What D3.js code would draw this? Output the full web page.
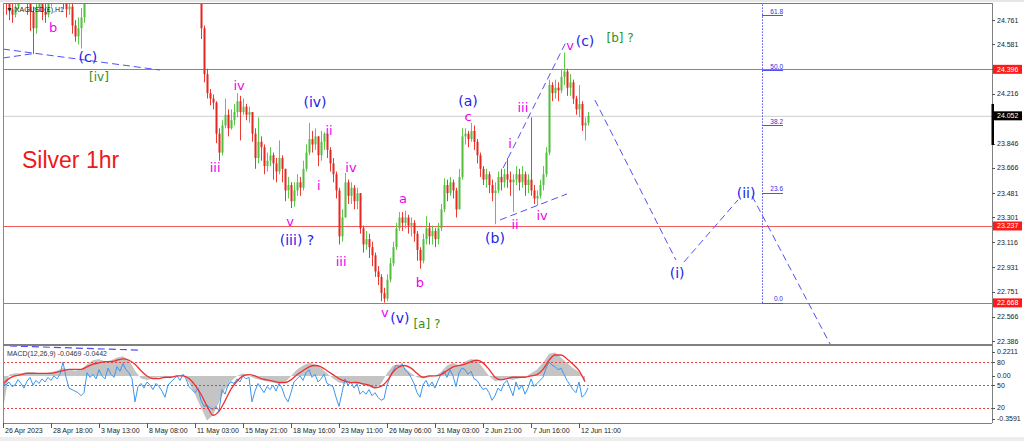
<!DOCTYPE html>
<html><head><meta charset="utf-8">
<script src="https://cdn.jsdelivr.net/npm/d3@7"></script>
<style>body{margin:0;background:#fff;overflow:hidden}svg{display:block}</style>
</head><body><svg id="c" width="1024" height="441"></svg>
<script>
// ---------- DATA ----------
const firstOpen = 25.02;
const closes = [24.95,24.88,24.84,24.80,24.86,24.92,24.98,25.02,24.95,24.82,24.70,24.85,24.90,24.82,24.80,24.88,24.96,25.05,25.10,25.02,24.90,24.84,24.86,24.72,24.64,24.70,24.78,24.95,
25.10,25.18,25.25,25.32,25.40,25.36,25.45,25.52,25.60,25.55,25.48,25.58,25.66,25.72,25.68,25.75,25.80,25.74,25.66,25.70,25.62,25.55,25.60,25.52,25.45,25.50,25.42,25.35,25.40,25.30,25.22,25.28,25.20,25.15,25.22,25.12,25.08,25.05,
24.70,24.36,24.22,24.18,24.15,23.92,23.78,23.98,24.06,23.96,24.02,24.08,24.16,24.08,24.12,24.06,24.08,23.92,23.74,23.86,23.82,23.68,23.72,23.76,23.70,23.64,23.74,23.66,23.50,23.54,23.42,23.50,23.56,23.52,
23.66,23.78,23.88,23.84,23.90,23.76,23.86,23.92,23.80,23.70,23.62,23.50,23.16,23.30,23.56,23.46,23.52,23.42,23.48,23.22,23.10,23.14,23.08,23.02,22.90,22.86,22.74,22.70,22.84,22.96,23.08,23.22,23.30,23.26,
23.30,23.24,23.26,23.18,23.06,22.98,23.14,23.22,23.16,23.20,23.14,23.22,23.36,23.54,23.48,23.56,23.50,23.36,23.60,23.90,23.92,23.88,23.94,23.86,23.76,23.66,23.58,23.62,23.54,23.48,23.50,23.60,23.56,23.62,
23.58,23.56,23.58,23.62,23.56,23.62,23.54,23.58,23.50,23.44,23.46,23.54,23.62,23.78,24.28,24.22,24.26,24.24,24.34,24.38,24.26,24.30,24.18,24.10,24.14,23.98,24.00,24.052];
const highs = [25.10,25.02,24.96,24.92,24.95,25.00,25.06,25.12,25.08,24.98,24.86,24.92,24.98,24.94,24.88,24.95,25.02,25.12,25.18,25.14,25.04,24.94,24.92,24.90,24.76,24.78,24.85,25.02,
25.16,25.24,25.30,25.38,25.45,25.44,25.50,25.58,25.66,25.64,25.58,25.64,25.72,25.78,25.76,25.80,25.86,25.82,25.76,25.76,25.72,25.64,25.66,25.62,25.56,25.55,25.52,25.45,25.44,25.42,25.32,25.32,25.30,25.24,25.26,25.24,25.16,25.12,
25.05,24.72,24.40,24.25,24.21,24.16,23.96,24.02,24.18,24.10,24.10,24.14,24.22,24.20,24.18,24.14,24.12,24.08,23.96,24.04,23.90,23.84,23.78,23.82,23.78,23.74,23.87,23.76,23.66,23.60,23.56,23.56,23.62,23.60,
23.72,23.84,24.00,23.94,23.96,23.90,23.94,23.93,23.92,23.82,23.74,23.64,23.52,23.36,23.63,23.58,23.56,23.54,23.52,23.48,23.24,23.20,23.18,23.12,23.04,22.94,22.88,22.78,22.88,23.00,23.12,23.26,23.34,23.34,
23.35,23.32,23.30,23.28,23.20,23.08,23.18,23.31,23.26,23.24,23.22,23.26,23.40,23.59,23.58,23.60,23.58,23.52,23.66,23.96,23.96,23.94,24.00,23.98,23.88,23.78,23.68,23.66,23.64,23.58,23.56,23.64,23.66,23.66,
23.74,23.64,23.62,23.68,23.66,23.68,23.64,23.62,24.04,23.54,23.50,23.58,23.68,23.82,24.32,24.30,24.32,24.30,24.40,24.52,24.40,24.36,24.32,24.20,24.28,24.16,24.04,24.08];
const lows = [24.84,24.80,24.76,24.74,24.78,24.84,24.90,24.94,24.80,24.68,24.51,24.66,24.82,24.76,24.74,24.78,24.86,24.94,25.00,24.88,24.84,24.78,24.80,24.66,24.60,24.58,24.55,24.74,
24.92,25.06,25.14,25.22,25.28,25.30,25.34,25.42,25.50,25.50,25.44,25.45,25.55,25.62,25.62,25.66,25.72,25.68,25.60,25.62,25.56,25.50,25.52,25.46,25.40,25.42,25.36,25.30,25.32,25.26,25.18,25.20,25.16,25.10,25.12,25.06,25.02,24.98,
24.62,24.30,24.18,24.13,24.10,23.85,23.72,23.76,23.96,23.90,23.95,23.98,24.04,23.87,24.06,24.02,24.00,23.86,23.66,23.70,23.72,23.62,23.64,23.68,23.58,23.56,23.62,23.56,23.42,23.44,23.37,23.38,23.46,23.46,
23.50,23.64,23.76,23.78,23.80,23.68,23.72,23.80,23.74,23.64,23.56,23.44,23.10,23.12,23.30,23.40,23.40,23.36,23.36,23.18,23.04,23.06,23.00,22.94,22.86,22.80,22.68,22.67,22.68,22.82,22.94,23.06,23.20,23.20,
23.22,23.18,23.16,23.12,22.98,22.92,22.96,23.10,23.10,23.10,23.08,23.10,23.20,23.34,23.42,23.46,23.44,23.30,23.36,23.58,23.84,23.82,23.86,23.80,23.70,23.60,23.54,23.52,23.48,23.42,23.25,23.48,23.50,23.52,
23.52,23.46,23.34,23.54,23.50,23.52,23.46,23.48,23.46,23.40,23.39,23.44,23.50,23.60,23.76,24.16,24.18,24.16,24.22,24.28,24.20,24.20,24.14,24.06,24.04,23.94,23.87,23.98];

const timeLabels = ["26 Apr 2023","28 Apr 18:00","3 May 13:00","8 May 08:00","11 May 03:00","15 May 21:00","18 May 16:00","23 May 11:00","26 May 06:00","31 May 03:00","2 Jun 21:00","7 Jun 16:00","12 Jun 11:00"];
const priceTicks = [24.761,24.581,24.401,24.216,24.031,23.846,23.666,23.481,23.301,23.116,22.931,22.751,22.566,22.386];
const levelLines = [24.396,23.237,22.668];
const currentPrice = 24.052;
const lastDayRange = [23.836,24.140];

const fibLevels = [0,23.6,38.2,50,61.8];
const fibLow = 22.668, fibHigh = 26.113, fibBar = 253;

const macdMain = [-0.25,0.01,0.02,0.02,0.03,0.03,0.02,0.02,0.03,0.04,0.06,0.05,0.04,0.05,0.09,0.12,0.13,0.11,0.12,0.14,
0.15,0.12,0.04,-0.02,-0.03,-0.02,-0.01,-0.02,-0.01,0.00,0.01,-0.05,-0.14,-0.24,-0.34,-0.30,-0.20,-0.10,-0.04,0.00,
0.02,0.00,-0.02,-0.03,-0.04,-0.05,-0.06,-0.05,0.00,0.05,0.08,0.10,0.09,0.06,0.02,-0.02,-0.05,-0.06,-0.04,-0.05,
-0.07,-0.08,-0.09,-0.06,0.02,0.08,0.09,0.06,0.02,-0.01,-0.02,-0.01,0.00,0.03,0.08,0.10,0.08,0.11,0.13,0.12,
0.06,0.00,-0.04,-0.03,-0.02,-0.03,-0.02,-0.01,0.02,0.05,0.10,0.17,0.18,0.14,0.10,0.06,0.03,-0.047];
const macdSignal = [-0.06,-0.02,0.00,0.01,0.02,0.02,0.02,0.02,0.02,0.03,0.04,0.05,0.05,0.05,0.07,0.09,0.10,0.11,0.11,0.12,
0.13,0.12,0.09,0.04,0.00,-0.02,-0.02,-0.01,-0.01,0.00,0.00,-0.02,-0.07,-0.14,-0.23,-0.30,-0.27,-0.19,-0.10,-0.04,
0.00,0.01,0.00,-0.02,-0.03,-0.04,-0.05,-0.05,-0.03,0.01,0.04,0.07,0.08,0.07,0.04,0.01,-0.02,-0.04,-0.05,-0.05,
-0.06,-0.07,-0.09,-0.08,-0.04,0.03,0.07,0.08,0.06,0.02,-0.01,0.00,0.00,0.01,0.04,0.07,0.08,0.09,0.11,0.12,
0.10,0.05,-0.01,-0.03,-0.02,-0.01,-0.01,-0.01,0.00,0.01,0.05,0.12,0.16,0.16,0.13,0.09,0.04,-0.044];
const oscValues = [52,50,54,48,50,57,52,46,55,60,50,56,52,58,54,60,56,62,58,64,80,60,46,44,42,40,36,40,66,60,
64,58,70,62,58,72,64,60,74,68,78,70,66,58,28,48,52,46,54,50,44,52,48,42,34,50,54,58,62,56,
64,58,48,44,40,46,30,22,24,20,18,22,16,44,38,50,54,52,58,54,62,58,60,28,42,52,46,40,48,44,
50,42,52,46,34,28,40,54,58,62,56,66,70,60,64,54,58,64,52,50,48,34,22,40,58,50,54,46,52,38,
42,38,44,36,40,34,30,32,50,60,68,76,74,78,70,66,60,52,40,34,50,56,48,54,46,56,64,68,60,70,
62,48,66,72,70,64,68,58,56,50,44,46,40,30,36,46,42,52,56,46,36,54,44,50,38,46,58,48,52,56,
60,72,80,76,74,70,72,64,56,50,44,40,54,34,38,46];
const oscLevels = [80,50,20];

// wave labels: text, bar index, price, kind (m = minor, b = intermediate, g = primary)
const waveLabels = [
 {t:"b",i:16.7,p:24.702,k:"m"},{t:"(c)",i:28.3,p:24.487,k:"b"},{t:"[iv]",i:32,p:24.339,k:"g"},
 {t:"iv",i:78.7,p:24.273,k:"m"},{t:"iii",i:70.7,p:23.666,k:"m"},{t:"(iv)",i:104,p:24.154,k:"b"},
 {t:"ii",i:108.7,p:23.940,k:"m"},{t:"i",i:105.3,p:23.533,k:"m"},{t:"iv",i:116,p:23.666,k:"m"},
 {t:"v",i:95.7,p:23.267,k:"m"},{t:"(iii) ?",i:98,p:23.134,k:"b"},{t:"iii",i:112.7,p:22.971,k:"m"},
 {t:"a",i:133.3,p:23.437,k:"m"},{t:"b",i:139,p:22.816,k:"m"},{t:"v",i:127.3,p:22.594,k:"m"},
 {t:"(v)",i:132.3,p:22.557,k:"b"},{t:"[a] ?",i:141.3,p:22.512,k:"g"},{t:"(a)",i:155,p:24.162,k:"b"},
 {t:"c",i:155,p:24.044,k:"m"},{t:"iii",i:173.3,p:24.117,k:"m"},{t:"i",i:169,p:23.844,k:"m"},
 {t:"ii",i:170.7,p:23.245,k:"m"},{t:"iv",i:179.7,p:23.311,k:"m"},{t:"(b)",i:164,p:23.149,k:"b"},
 {t:"v",i:189,p:24.569,k:"m"},{t:"(c)",i:194,p:24.606,k:"b"},{t:"[b] ?",i:205.7,p:24.628,k:"g"},
 {t:"(i)",i:224.7,p:22.890,k:"b"},{t:"(ii)",i:247.7,p:23.481,k:"b"}
];
// dashed wave lines: [[bar, price],[bar, price]]
const waveLines = [
 [[0,24.546],[52.3,24.391]],
 [[0,24.480],[11,24.515]],
 [[166.7,23.666],[188,24.613]],
 [[165.7,23.282],[188,23.474]],
 [[197.3,24.169],[224.3,22.986]],
 [[227,22.971],[245,23.430]],
 [[249.7,23.459],[276,22.35]]
];
const oscWaveLine = [[2.3,101],[45.7,95.5]];

// ---------- DRAW ----------
const svg = d3.select("#c");
const L=3, R=992, T=3, B=344, MT=346, MB=423;
const x = d3.scaleLinear().domain([0,196]).range([3,591]);
const y = d3.scaleLinear().domain([22.386,24.761]).range([341,20]);
const yM = d3.scaleLinear().domain([-0.3591,0.2211]).range([423,347]);
const yO = d3.scaleLinear().domain([0,100]).range([423.3,346.7]);
const COL = {m:"#f000f0", b:"#2323e6", g:"#2f8f1f"};
const dashBlue = "#5050f5";
const axisFont = "'Liberation Sans', Arial, sans-serif";
const waveFont = "'DejaVu Sans', Verdana, sans-serif";

svg.append("rect").attr("width",1024).attr("height",441).attr("fill","#fff");
svg.append("rect").attr("x",0).attr("y",0).attr("width",1024).attr("height",2).attr("fill","#e6e6e6");
svg.append("rect").attr("x",0).attr("y",437).attr("width",1024).attr("height",4).attr("fill","#ededed");

const defs = svg.append("defs");
defs.append("clipPath").attr("id","cm").append("rect").attr("x",L).attr("y",T).attr("width",R-L).attr("height",B-T);
defs.append("clipPath").attr("id","co").append("rect").attr("x",L).attr("y",MT).attr("width",R-L).attr("height",MB-MT);

const gm = svg.append("g").attr("clip-path","url(#cm)");

// current price line and level lines
gm.append("line").attr("x1",L).attr("x2",R).attr("y1",y(currentPrice)+0.5).attr("y2",y(currentPrice)+0.5)
  .attr("stroke","#cfcfcf").attr("stroke-width",1);
gm.selectAll(".lvl").data(levelLines).join("line")
  .attr("x1",L).attr("x2",R).attr("y1",d=>Math.round(y(d))+0.5).attr("y2",d=>Math.round(y(d))+0.5)
  .attr("stroke","#f25a5a").attr("stroke-width",1);

// fib tool
gm.append("line").attr("x1",x(fibBar)+0.5).attr("x2",x(fibBar)+0.5)
  .attr("y1",y(fibLow)).attr("y2",y(fibHigh)).attr("stroke",dashBlue).attr("stroke-dasharray","1.5,1.5");
const fibY = l => y(fibLow + (fibHigh-fibLow)*l/100);
gm.selectAll(".fibl").data(fibLevels).join("line")
  .attr("x1",x(fibBar)).attr("x2",x(fibBar+7)).attr("y1",d=>Math.round(fibY(d))+0.5).attr("y2",d=>Math.round(fibY(d))+0.5)
  .attr("stroke",dashBlue).attr("stroke-width",1);
gm.selectAll(".fibt").data(fibLevels).join("text")
  .attr("x",x(fibBar+7)).attr("y",d=>fibY(d)-1.5).attr("text-anchor","end")
  .attr("font-family",axisFont).attr("font-size",6.5).attr("fill","#3030e0")
  .text(d=>d.toFixed(1));

// candles
const candles = closes.map((c,i)=>{
  const o = i===0 ? firstOpen : closes[i-1];
  return {i,o,c,h:Math.max(highs[i],o,c),l:Math.min(lows[i],o,c)};
});
const cg = gm.append("g");
cg.selectAll(".wick").data(candles).join("line")
  .attr("x1",d=>x(d.i)+0.5).attr("x2",d=>x(d.i)+0.5)
  .attr("y1",d=>y(d.h)).attr("y2",d=>y(d.l))
  .attr("stroke",d=>d.c>=d.o?"#5ccc48":"#ec3a30").attr("stroke-width",1);
cg.selectAll(".body").data(candles).join("rect")
  .attr("x",d=>x(d.i)-0.5).attr("width",2)
  .attr("y",d=>y(Math.max(d.o,d.c))).attr("height",d=>Math.max(1,Math.abs(y(d.o)-y(d.c))))
  .attr("fill",d=>d.c>=d.o?"#52be3c":"#e8251f");

// wave lines
gm.selectAll(".wl").data(waveLines).join("line")
  .attr("x1",d=>x(d[0][0])).attr("y1",d=>y(d[0][1])).attr("x2",d=>x(d[1][0])).attr("y2",d=>y(d[1][1]))
  .attr("stroke",dashBlue).attr("stroke-width",1).attr("stroke-dasharray","7,4");

// wave labels
gm.selectAll(".wt").data(waveLabels).join("text")
  .attr("x",d=>x(d.i)).attr("y",d=>y(d.p)).attr("text-anchor","middle").attr("dominant-baseline","central")
  .attr("font-family",waveFont).attr("font-size",d=>d.k==="b"?14:(d.k==="g"?12:13))
  .attr("fill",d=>COL[d.k]).text(d=>d.t);

// title texts
svg.append("text").attr("x",22).attr("y",168).attr("font-family",axisFont).attr("font-size",23)
  .attr("fill","#f01818").text("Silver 1hr");
svg.append("text").attr("x",6).attr("y",12).attr("font-family",axisFont).attr("font-size",7)
  .attr("fill","#222").text("▼ XAGUSD(£),H1");

// ---------- MACD / oscillator panel ----------
const go = svg.append("g").attr("clip-path","url(#co)");
const xm = j => x(j*2);
go.append("path").datum(macdMain)
  .attr("d",d3.area().x((d,j)=>xm(j)).y0(yM(0)).y1(d=>yM(d)))
  .attr("fill","#c4c4c4");
go.selectAll(".ol").data(oscLevels).join("line")
  .attr("x1",L).attr("x2",R).attr("y1",d=>Math.round(yO(d))+0.5).attr("y2",d=>Math.round(yO(d))+0.5)
  .attr("stroke","#f03c3c").attr("stroke-dasharray","2,2");
go.append("path").datum(oscValues)
  .attr("d",d3.line().x((d,i)=>x(i)).y(d=>yO(d)))
  .attr("fill","none").attr("stroke","#3a96f0").attr("stroke-width",1);
go.append("path").datum(macdSignal)
  .attr("d",d3.line().curve(d3.curveMonotoneX).x((d,j)=>xm(j)).y(d=>yM(d)))
  .attr("fill","none").attr("stroke","#f03030").attr("stroke-width",1.3);
svg.append("line").attr("x1",x(oscWaveLine[0][0])).attr("y1",yO(oscWaveLine[0][1]))
  .attr("x2",x(oscWaveLine[1][0])).attr("y2",yO(oscWaveLine[1][1]))
  .attr("stroke",dashBlue).attr("stroke-width",1.2).attr("stroke-dasharray","7,4");
svg.append("text").attr("x",7).attr("y",356).attr("font-family",axisFont).attr("font-size",7)
  .attr("fill","#333").text("MACD(12,26,9) -0.0469 -0.0442");

// ---------- frames ----------
svg.append("line").attr("x1",L).attr("x2",R).attr("y1",T+0.5).attr("y2",T+0.5).attr("stroke","#777");
svg.append("line").attr("x1",L+0.5).attr("x2",L+0.5).attr("y1",T).attr("y2",MB).attr("stroke","#888");
svg.append("rect").attr("x",L).attr("y",B).attr("width",R-L).attr("height",2).attr("fill","#808080");
svg.append("line").attr("x1",L).attr("x2",R).attr("y1",MB+0.5).attr("y2",MB+0.5).attr("stroke","#808080");
svg.append("line").attr("x1",R+0.5).attr("x2",R+0.5).attr("y1",T).attr("y2",MB).attr("stroke","#808080");

// price axis
const pa = svg.append("g");
const boxes = levelLines.map(v=>({v,fill:"#ff1a1a"})).concat([{v:currentPrice,fill:"#000"}]);
const freeTicks = priceTicks.filter(t => boxes.every(b => Math.abs(y(t)-y(b.v)) > 7));
pa.selectAll(".pt").data(priceTicks).join("line")
  .attr("x1",R).attr("x2",R+3).attr("y1",d=>Math.round(y(d))+0.5).attr("y2",d=>Math.round(y(d))+0.5).attr("stroke","#555");
pa.selectAll(".pl").data(freeTicks).join("text")
  .attr("x",R+5).attr("y",d=>y(d)).attr("dominant-baseline","central")
  .attr("font-family",axisFont).attr("font-size",7).attr("fill","#222").text(d=>d.toFixed(3));
pa.append("rect").attr("x",R-0.5).attr("y",y(lastDayRange[1])).attr("width",2.5)
  .attr("height",y(lastDayRange[0])-y(lastDayRange[1])).attr("fill","#000");
pa.selectAll(".pb").data(boxes).join("rect")
  .attr("x",R+1).attr("y",d=>y(d.v)-4.5).attr("width",29).attr("height",9).attr("fill",d=>d.fill);
pa.selectAll(".pbt").data(boxes).join("text")
  .attr("x",R+5).attr("y",d=>y(d.v)).attr("dominant-baseline","central")
  .attr("font-family",axisFont).attr("font-size",7).attr("fill","#fff").text(d=>d.v.toFixed(3));

// oscillator axis labels
const oLabels = [
  {t:"0.2211",y:yM(0.2211)+4.5},{t:"0.00",y:yM(0)},{t:"-0.3591",y:yM(-0.3591)-4.5}
].concat(oscLevels.map(v=>({t:String(v),y:yO(v)})));
pa.selectAll(".ot").data(oLabels).join("line")
  .attr("x1",R).attr("x2",R+3).attr("y1",d=>Math.round(d.y)+0.5).attr("y2",d=>Math.round(d.y)+0.5).attr("stroke","#555");
pa.selectAll(".otx").data(oLabels).join("text")
  .attr("x",R+5).attr("y",d=>d.y).attr("dominant-baseline","central")
  .attr("font-family",axisFont).attr("font-size",7).attr("fill","#222").text(d=>d.t);

// time axis
const ta = svg.append("g");
ta.selectAll(".tt").data(timeLabels).join("line")
  .attr("x1",(d,k)=>x(k*16)+0.5).attr("x2",(d,k)=>x(k*16)+0.5).attr("y1",MB).attr("y2",MB+5).attr("stroke","#555");
ta.selectAll(".tl").data(timeLabels).join("text")
  .attr("x",(d,k)=>x(k*16)+2).attr("y",433)
  .attr("font-family",axisFont).attr("font-size",7).attr("fill","#222").text(d=>d);
</script></body></html>
